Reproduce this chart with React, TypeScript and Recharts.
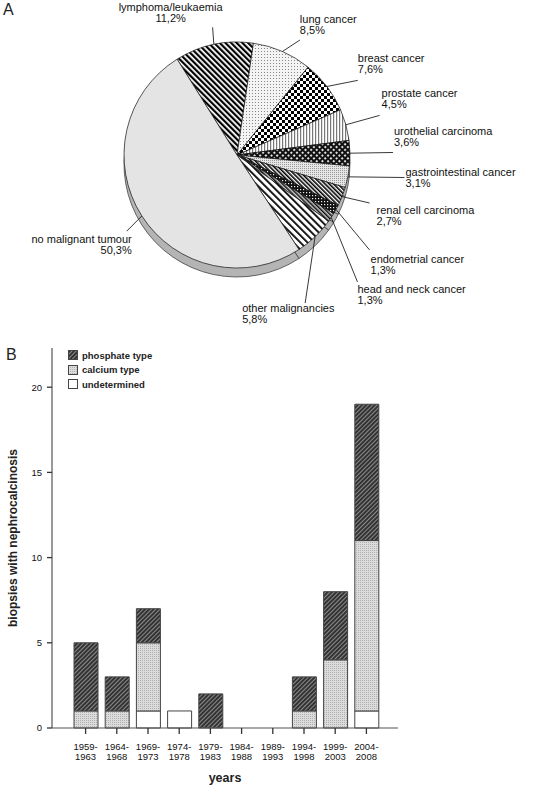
import React from 'react';
import { PieChart, Pie, Cell, BarChart, Bar, XAxis, YAxis, Legend } from 'recharts';

// ---------- Panel A data ----------
const PIE_NAMES = [
  'lymphoma/leukaemia',
  'lung cancer',
  'breast cancer',
  'prostate cancer',
  'urothelial carcinoma',
  'gastrointestinal cancer',
  'renal cell carcinoma',
  'endometrial cancer',
  'head and neck cancer',
  'other malignancies',
  'no malignant tumour',
];
const PIE_VALUES = [11.2, 8.5, 7.6, 4.5, 3.6, 3.1, 2.7, 1.3, 1.3, 5.8, 50.3];

// ---------- Panel B data ----------
const PERIODS = [
  '1959-1963', '1964-1968', '1969-1973', '1974-1978', '1979-1983',
  '1984-1988', '1989-1993', '1994-1998', '1999-2003', '2004-2008',
];
const UNDETERMINED = [0, 0, 1, 1, 0, 0, 0, 0, 0, 1];
const CALCIUM = [1, 1, 4, 0, 0, 0, 0, 1, 4, 10];
const PHOSPHATE = [4, 2, 2, 0, 2, 0, 0, 2, 4, 8];
const Y_TICKS = [0, 5, 10, 15, 20];

// ---------- styles / layout ----------
const PIE_FILLS = [
  'url(#pLymph)', 'url(#pLung)', 'url(#pBreast)', 'url(#pProstate)', 'url(#pUro)',
  'url(#pGI)', 'url(#pRenal)', 'url(#pEndo)', 'url(#pHead)', 'url(#pOther)', '#e4e4e4',
];
// leader line end (angle shift from slice mid, radius) and text offset from line end
const LABEL_LAYOUT = [
  { shift: -1, r: 130, dx: -42, dy: -20, anchor: 'middle' },
  { shift: -5, r: 131, dx: 0, dy: -21, anchor: 'start' },
  { shift: -5.6, r: 142, dx: 0, dy: -22, anchor: 'start' },
  { shift: 0, r: 148, dx: 2, dy: -22, anchor: 'start' },
  { shift: 0, r: 156, dx: 1, dy: -21, anchor: 'start' },
  { shift: 3.5, r: 169, dx: 1, dy: -6, anchor: 'start' },
  { shift: 1.7, r: 141, dx: 7, dy: 7, anchor: 'start' },
  { shift: -6.8, r: 163, dx: 1, dy: 9, anchor: 'start' },
  { shift: -13, r: 175, dx: 0, dy: 7, anchor: 'start' },
  { shift: -19, r: 163, dx: -63, dy: 5, anchor: 'start' },
  { shift: 2, r: 134, dx: 5, dy: 8, anchor: 'end' },
];

const pieData = PIE_NAMES.map((name, i) => ({ name, value: PIE_VALUES[i] }));
const barData = PERIODS.map((period, i) => ({
  period,
  undetermined: UNDETERMINED[i],
  calcium: CALCIUM[i],
  phosphate: PHOSPHATE[i],
}));

const FONT = 'Liberation Sans, Arial, sans-serif';
const RAD = Math.PI / 180;

const fmtPct = (v: number) => v.toFixed(1).replace('.', ',') + '%';

const renderPieLabel = (props: any) => {
  const { cx, cy, midAngle, outerRadius, index } = props;
  const L = LABEL_LAYOUT[index];
  const sx = cx + outerRadius * Math.cos(-midAngle * RAD);
  const sy = cy + outerRadius * Math.sin(-midAngle * RAD);
  const ea = midAngle + L.shift;
  const ex = cx + L.r * Math.cos(-ea * RAD);
  const ey = cy + L.r * Math.sin(-ea * RAD);
  const tx = ex + L.dx;
  const ty = ey + L.dy + 4;
  return (
    <g key={`lbl-${index}`}>
      <line x1={sx} y1={sy} x2={ex} y2={ey} stroke="#222" strokeWidth={0.9} />
      <text x={tx} y={ty} textAnchor={L.anchor} fontSize={11} fontFamily={FONT} fill="#111">
        <tspan x={tx}>{PIE_NAMES[index]}</tspan>
        <tspan x={tx} dy={11}>{fmtPct(PIE_VALUES[index])}</tspan>
      </text>
    </g>
  );
};

const XTick = (props: any) => {
  const { x, y, payload } = props;
  const [a, b] = String(payload.value).split('-');
  return (
    <text x={x} y={y} textAnchor="middle" fontSize={9.5} fontFamily={FONT} fill="#111">
      <tspan x={x} dy={16}>{a}-</tspan>
      <tspan x={x} dy={10}>{b}</tspan>
    </text>
  );
};

const LEGEND_ITEMS = [
  { key: 'phosphate', label: 'phosphate type', fill: 'url(#bPhos)' },
  { key: 'calcium', label: 'calcium type', fill: 'url(#bCalc)' },
  { key: 'undetermined', label: 'undetermined', fill: '#ffffff' },
];

const LegendContent = () => (
  <div style={{ display: 'flex', flexDirection: 'column', gap: 0 }}>
    {LEGEND_ITEMS.map((it) => (
      <div key={it.key} style={{ display: 'flex', alignItems: 'center', height: 14.5 }}>
        <svg width={10} height={10} style={{ marginRight: 4 }}>
          <rect x={0.5} y={0.5} width={9} height={9} fill={it.fill} stroke="#444" strokeWidth={1} />
        </svg>
        <span style={{ fontFamily: FONT, fontWeight: 'bold', fontSize: 9.5, color: '#222' }}>{it.label}</span>
      </div>
    ))}
  </div>
);

const YLabel = (props: any) => {
  const vb = props.viewBox || { x: 0, y: 0, width: 0, height: 0 };
  const cx = 13;
  const cy = vb.y + vb.height / 2;
  return (
    <text
      x={cx}
      y={cy}
      transform={`rotate(-90 ${cx} ${cy})`}
      textAnchor="middle"
      dominantBaseline="central"
      fontSize={12}
      fontWeight="bold"
      fontFamily={FONT}
      fill="#222"
    >
      biopsies with nephrocalcinosis
    </text>
  );
};

export default function App() {
  return (
    <div style={{ position: 'absolute', left: 0, top: 0, width: 556, height: 791, background: '#fff', overflow: 'hidden' }}>
      <div style={{ position: 'absolute', left: 3, top: 2, fontFamily: FONT, fontSize: 16, lineHeight: '16px', color: '#222' }}>A</div>
      <div style={{ position: 'absolute', left: 6, top: 347, fontFamily: FONT, fontSize: 16, lineHeight: '16px', color: '#222' }}>B</div>

      <div style={{ position: 'absolute', left: 0, top: 0 }}>
        <PieChart width={556} height={340} margin={{ top: 0, right: 0, bottom: 0, left: 0 }}>
          <defs>
            <pattern id="pLymph" width="4" height="4" patternUnits="userSpaceOnUse" patternTransform="rotate(-45)">
              <rect width="4" height="4" fill="#fff" />
              <rect width="2.2" height="4" fill="#000" />
            </pattern>
            <pattern id="pLung" width="3" height="3" patternUnits="userSpaceOnUse">
              <rect width="3" height="3" fill="#f4f4f4" />
              <rect width="1" height="1" fill="#888" />
            </pattern>
            <pattern id="pBreast" width="6" height="6" patternUnits="userSpaceOnUse">
              <rect width="6" height="6" fill="#fff" />
              <rect width="3" height="3" fill="#000" />
              <rect x="3" y="3" width="3" height="3" fill="#000" />
            </pattern>
            <pattern id="pProstate" width="3" height="3" patternUnits="userSpaceOnUse">
              <rect width="3" height="3" fill="#fff" />
              <rect width="1.2" height="3" fill="#777" />
            </pattern>
            <pattern id="pUro" width="4" height="4" patternUnits="userSpaceOnUse" patternTransform="rotate(45)">
              <rect width="4" height="4" fill="#111" />
              <rect x="1" y="1" width="2" height="2" fill="#ddd" />
            </pattern>
            <pattern id="pGI" width="2" height="2" patternUnits="userSpaceOnUse">
              <rect width="2" height="2" fill="#e6e6e6" />
              <rect width="1" height="1" fill="#999" />
            </pattern>
            <pattern id="pRenal" width="3" height="3" patternUnits="userSpaceOnUse" patternTransform="rotate(-45)">
              <rect width="3" height="3" fill="#fff" />
              <rect width="1.6" height="3" fill="#000" />
            </pattern>
            <pattern id="pEndo" width="3" height="3" patternUnits="userSpaceOnUse">
              <rect width="3" height="3" fill="#111" />
              <rect width="1.2" height="1.2" fill="#eee" />
            </pattern>
            <pattern id="pHead" width="3" height="3" patternUnits="userSpaceOnUse" patternTransform="rotate(-45)">
              <rect width="3" height="3" fill="#ccc" />
              <rect width="1.5" height="3" fill="#111" />
            </pattern>
            <pattern id="pOther" width="5" height="5" patternUnits="userSpaceOnUse" patternTransform="rotate(-45)">
              <rect width="5" height="5" fill="#fff" />
              <rect width="1.8" height="5" fill="#000" />
            </pattern>
          </defs>
          <Pie
            data={pieData}
            dataKey="value"
            nameKey="name"
            cx={237}
            cy={164}
            outerRadius={113}
            startAngle={122}
            endAngle={-238}
            fill="#b4b4b4"
            stroke="#444"
            strokeWidth={0.8}
            isAnimationActive={false}
            label={false}
            labelLine={false}
          >
            {pieData.map((d, i) => (
              <Cell key={`b-${i}`} fill="#b4b4b4" />
            ))}
          </Pie>
          <Pie
            data={pieData}
            dataKey="value"
            nameKey="name"
            cx={237}
            cy={155}
            outerRadius={113}
            startAngle={122}
            endAngle={-238}
            stroke="#111"
            strokeWidth={0.7}
            isAnimationActive={false}
            label={renderPieLabel}
            labelLine={false}
          >
            {pieData.map((d, i) => (
              <Cell key={`c-${i}`} fill={PIE_FILLS[i]} />
            ))}
          </Pie>
        </PieChart>
      </div>

      <div style={{ position: 'absolute', left: 0, top: 340 }}>
        <BarChart width={556} height={451} data={barData} margin={{ top: 8, right: 158, bottom: 19, left: 0 }} barSize={24}>
          <defs>
            <pattern id="bPhos" width="3" height="3" patternUnits="userSpaceOnUse" patternTransform="rotate(45)">
              <rect width="3" height="3" fill="#333" />
              <rect width="1" height="3" fill="#8a8a8a" />
            </pattern>
            <pattern id="bCalc" width="2" height="2" patternUnits="userSpaceOnUse">
              <rect width="2" height="2" fill="#dcdcdc" />
              <rect width="1" height="1" fill="#b0b0b0" />
            </pattern>
          </defs>
          <XAxis
            dataKey="period"
            interval={0}
            height={44}
            padding={{ left: 18, right: 16 }}
            tickSize={6}
            tickMargin={0}
            tick={<XTick />}
            axisLine={{ stroke: '#555', strokeWidth: 1.2 }}
            tickLine={{ stroke: '#333', strokeWidth: 1.3 }}
            label={{ value: 'years', position: 'insideBottom', offset: -10, style: { fontFamily: FONT, fontWeight: 'bold', fontSize: 12.5, fill: '#222' } }}
          />
          <YAxis
            type="number"
            domain={[0, 22.3]}
            ticks={Y_TICKS}
            width={52}
            tickSize={5}
            tickMargin={5}
            axisLine={{ stroke: '#555', strokeWidth: 1.2 }}
            tickLine={{ stroke: '#333', strokeWidth: 1.3 }}
            tick={{ fontFamily: FONT, fontSize: 9.5, fill: '#111' }}
            label={<YLabel />}
          />
          <Legend
            layout="vertical"
            align="center"
            verticalAlign="middle"
            content={<LegendContent />}
            wrapperStyle={{ position: 'absolute', left: 68, top: 8, width: 'auto', height: 'auto' }}
          />
          <Bar dataKey="undetermined" stackId="a" fill="#ffffff" stroke="#444" strokeWidth={1} isAnimationActive={false} />
          <Bar dataKey="calcium" stackId="a" fill="url(#bCalc)" stroke="#444" strokeWidth={1} isAnimationActive={false} />
          <Bar dataKey="phosphate" stackId="a" fill="url(#bPhos)" stroke="#444" strokeWidth={1} isAnimationActive={false} />
        </BarChart>
      </div>
    </div>
  );
}
